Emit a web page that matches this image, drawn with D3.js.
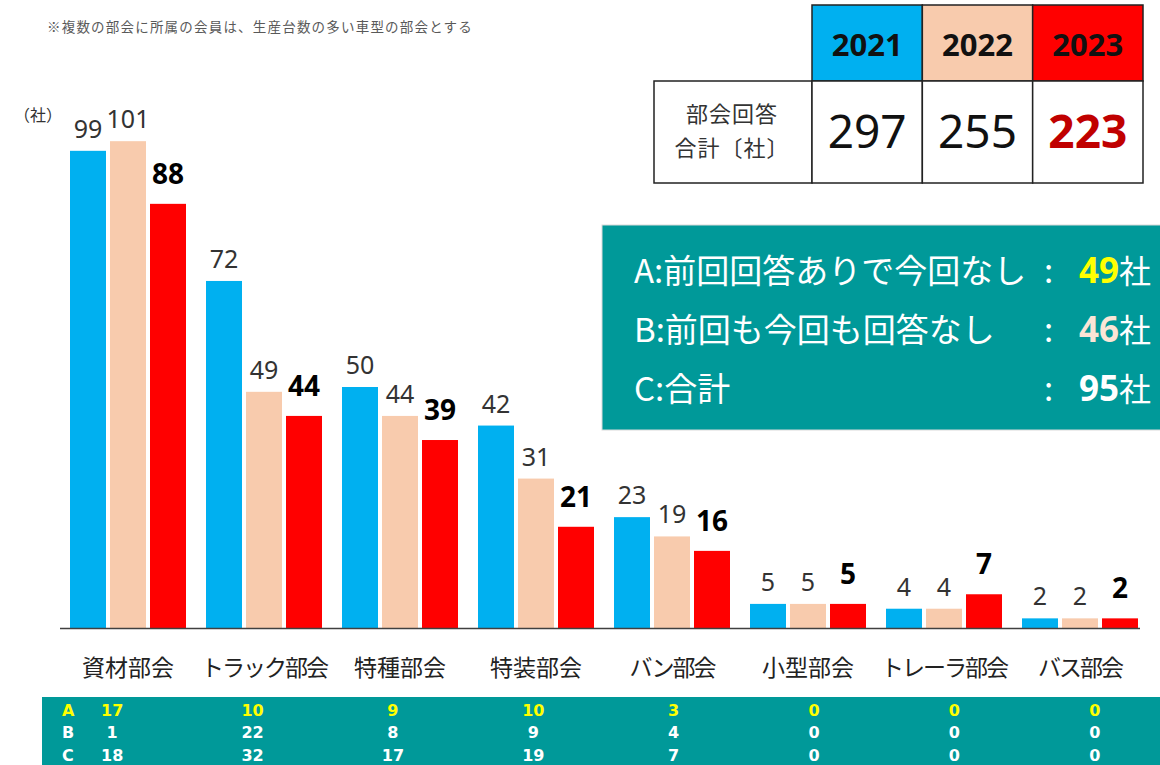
<!DOCTYPE html>
<html>
<head>
<meta charset="utf-8">
<script src="https://cdn.jsdelivr.net/npm/d3@7"></script>
<style>
  body { margin: 0; background: #fff; }
  svg { display: block; }
</style>
</head>
<body>
<script>
// data
const categories = ["資材部会", "トラック部会", "特種部会", "特装部会", "バン部会", "小型部会", "トレーラ部会", "バス部会"];
const years = ["2021", "2022", "2023"];
const values2021 = [99, 72, 50, 42, 23, 5, 4, 2];
const values2022 = [101, 49, 44, 31, 19, 5, 4, 2];
const values2023 = [88, 44, 39, 21, 16, 5, 7, 2];
const totals = [297, 255, 223];
const rowA = [17, 10, 9, 10, 3, 0, 0, 0];
const rowB = [1, 22, 8, 9, 4, 0, 0, 0];
const rowC = [18, 32, 17, 19, 7, 0, 0, 0];
const boxLines = [
  { label: "A:前回回答ありで今回なし", value: 49, color: "#ffff00" },
  { label: "B:前回も今回も回答なし", value: 46, color: "#fbe5d6" },
  { label: "C:合計", value: 95, color: "#ffffff" }
];

const colors = ["#00b0f0", "#f8cbad", "#ff0000"];
const teal = "#009999";
const jp = "'Noto Sans CJK JP', 'Noto Sans', sans-serif";
const num = "'Noto Sans', 'DejaVu Sans', sans-serif";

const width = 1160, height = 765;
const svg = d3.select("body").append("svg")
  .attr("width", width).attr("height", height);

const series = [values2021, values2022, values2023];

// scales
const x0 = d3.scaleBand().domain(categories).range([66, 1154]).paddingInner(0).paddingOuter(0);
const x1 = d3.scaleBand().domain(years).range([4, x0.bandwidth() - 16]).paddingInner(0.1);
const y = d3.scaleLinear().domain([0, 100]).range([628, 146]);

// note
svg.append("text")
  .attr("x", 47).attr("y", 32)
  .style("font", `13.5px ${jp}`).attr("fill", "#595959")
  .style("letter-spacing", "1.2px")
  .text("※複数の部会に所属の会員は、生産台数の多い車型の部会とする");

svg.append("text")
  .attr("x", 14).attr("y", 121)
  .style("font", `16px ${jp}`).attr("fill", "#333")
  .text("（社）");

// bars
const groups = svg.append("g").selectAll("g")
  .data(categories)
  .join("g")
  .attr("transform", d => `translate(${x0(d)},0)`);

groups.selectAll("rect")
  .data((d, i) => years.map((yr, k) => ({ yr, k, v: series[k][i] })))
  .join("rect")
  .attr("x", d => x1(d.yr))
  .attr("y", d => y(d.v))
  .attr("width", x1.bandwidth())
  .attr("height", d => y(0) - y(d.v))
  .attr("fill", d => colors[d.k]);

groups.selectAll("text.val")
  .data((d, i) => years.map((yr, k) => ({ yr, k, v: series[k][i] })))
  .join("text")
  .attr("class", "val")
  .attr("x", d => x1(d.yr) + x1.bandwidth() / 2)
  .attr("y", d => y(d.v) - (d.k === 2 ? 20 : 13))
  .attr("text-anchor", "middle")
  .style("font-family", num)
  .style("font-size", d => d.k === 2 ? "28px" : "25px")
  .style("font-weight", d => d.k === 2 ? "bold" : "normal")
  .attr("fill", d => d.k === 2 ? "#000" : "#333")
  .text(d => d.v);

// axis line
svg.append("line")
  .attr("x1", 60).attr("x2", 1140)
  .attr("y1", y(0) + 0.5).attr("y2", y(0) + 0.5)
  .attr("stroke", "#404040").attr("stroke-width", 1.5);

// category labels (katakana set a little tighter, as in the original)
svg.append("g").selectAll("text")
  .data(categories)
  .join("text")
  .attr("x", d => x0(d) + x0.bandwidth() / 2 - 6)
  .attr("y", 676)
  .attr("text-anchor", "middle")
  .style("font", `23px ${jp}`)
  .style("letter-spacing", d => /[\u30A0-\u30FF]/.test(d) ? "-2px" : "0px")
  .attr("fill", "#222")
  .text(d => d);

// bottom teal table
svg.append("rect")
  .attr("x", 42).attr("y", 697).attr("width", width - 42).attr("height", 68)
  .attr("fill", teal);

const xt = d3.scaleBand().domain(categories).range([42, 1165]);
const rows = [
  { key: "A", vals: rowA, color: "#ffff00", y: 716 },
  { key: "B", vals: rowB, color: "#ffffff", y: 738 },
  { key: "C", vals: rowC, color: "#ffffff", y: 761 }
];
const rowG = svg.append("g").selectAll("g").data(rows).join("g");
rowG.append("text")
  .attr("x", 62).attr("y", r => r.y)
  .style("font", "bold 16px 'DejaVu Sans', sans-serif")
  .attr("fill", r => r.color)
  .text(r => r.key);
rowG.selectAll("text.v")
  .data(r => r.vals.map((v, i) => ({ v, c: categories[i], color: r.color, y: r.y })))
  .join("text")
  .attr("class", "v")
  .attr("x", d => xt(d.c) + xt.bandwidth() / 2)
  .attr("y", d => d.y)
  .attr("text-anchor", "middle")
  .style("font", "bold 16px 'DejaVu Sans', sans-serif")
  .attr("fill", d => d.color)
  .text(d => d.v);

// top-right totals table
const tx = d3.scaleBand().domain(years).range([812, 1143]);
const tbl = svg.append("g");
tbl.selectAll("rect.h")
  .data(years)
  .join("rect")
  .attr("class", "h")
  .attr("x", d => tx(d)).attr("y", 5)
  .attr("width", tx.bandwidth()).attr("height", 76)
  .attr("fill", (d, i) => colors[i])
  .attr("stroke", "#222").attr("stroke-width", 1.5);
tbl.selectAll("text.h")
  .data(years)
  .join("text")
  .attr("class", "h")
  .attr("x", d => tx(d) + tx.bandwidth() / 2).attr("y", 56)
  .attr("text-anchor", "middle")
  .style("font", `bold 31px ${num}`).attr("fill", "#111")
  .text(d => d);
tbl.append("rect")
  .attr("x", 654).attr("y", 81).attr("width", 158).attr("height", 102)
  .attr("fill", "#fff").attr("stroke", "#222").attr("stroke-width", 1.5);
tbl.selectAll("rect.v")
  .data(years)
  .join("rect")
  .attr("class", "v")
  .attr("x", d => tx(d)).attr("y", 81)
  .attr("width", tx.bandwidth()).attr("height", 102)
  .attr("fill", "#fff").attr("stroke", "#222").attr("stroke-width", 1.5);
tbl.selectAll("text.lab")
  .data(["部会回答", "合計〔社〕"])
  .join("text")
  .attr("class", "lab")
  .attr("x", 732).attr("y", (d, i) => 122 + i * 34)
  .attr("text-anchor", "middle")
  .style("font", `22px ${jp}`).attr("fill", "#333")
  .style("letter-spacing", "1px")
  .text(d => d);
tbl.selectAll("text.v")
  .data(totals)
  .join("text")
  .attr("class", "v")
  .attr("x", (d, i) => tx(years[i]) + tx.bandwidth() / 2).attr("y", 148)
  .attr("text-anchor", "middle")
  .style("font-family", num)
  .style("font-size", "46px")
  .style("font-weight", (d, i) => i === 2 ? "bold" : "normal")
  .attr("fill", (d, i) => i === 2 ? "#c00000" : "#111")
  .text(d => d);

// teal summary box
svg.append("rect")
  .attr("x", 602).attr("y", 225).attr("width", 560).attr("height", 205)
  .attr("fill", teal).attr("stroke", "#d9d9d9").attr("stroke-width", 1);
const box = svg.append("g").selectAll("g").data(boxLines).join("g")
  .attr("transform", (d, i) => `translate(0,${283 + i * 59})`);
box.append("text")
  .attr("x", 634).attr("y", 0)
  .style("font", `33px ${jp}`).attr("fill", "#fff")
  .text(d => d.label);
box.append("text")
  .attr("x", 1044).attr("y", 0)
  .style("font", `33px ${jp}`).attr("fill", "#fff")
  .text(":");
box.append("text")
  .attr("x", 1151).attr("y", 0)
  .attr("text-anchor", "end")
  .style("font", `32px ${jp}`).attr("fill", "#fff")
  .call(t => {
    t.append("tspan").style("font-weight", "bold").style("font-family", num)
      .style("font-size", "35px").attr("fill", d => d.color).text(d => d.value);
    t.append("tspan").text("社");
  });
</script>
</body>
</html>
